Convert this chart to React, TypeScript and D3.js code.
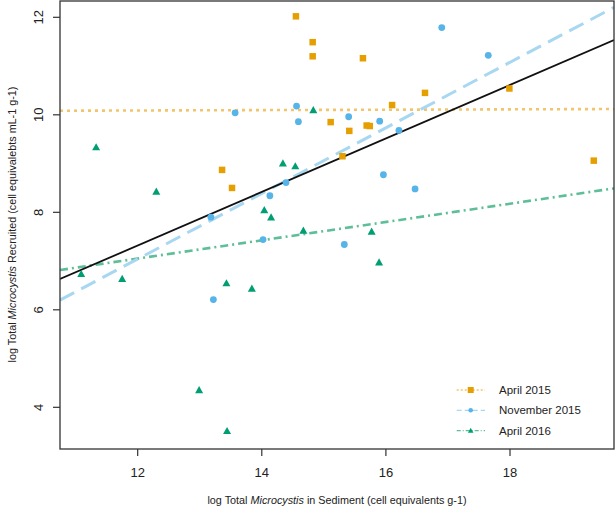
import React from "react";
import * as d3 from "d3";

// ---- data ----
const april2015X = [14.55, 14.82, 14.82, 15.63, 16.10, 15.11, 15.41, 15.69, 15.74, 15.30, 13.36, 13.52, 16.63, 17.99, 19.35];
const april2015Y = [12.02, 11.49, 11.20, 11.16, 10.20, 9.85, 9.67, 9.78, 9.77, 9.15, 8.87, 8.50, 10.45, 10.54, 9.06];

const nov2015X = [13.57, 14.56, 14.59, 15.40, 15.90, 16.21, 15.96, 14.39, 14.13, 16.90, 17.65, 16.47, 15.33, 13.18, 14.02, 13.22];
const nov2015Y = [10.04, 10.18, 9.86, 9.96, 9.87, 9.68, 8.77, 8.61, 8.34, 11.79, 11.22, 8.48, 7.34, 7.90, 7.44, 6.21];

const april2016X = [11.33, 12.30, 14.34, 14.54, 14.04, 14.15, 14.67, 14.83, 15.77, 15.89, 11.09, 11.75, 13.43, 13.84, 12.99, 13.44];
const april2016Y = [9.33, 8.42, 9.00, 8.94, 8.04, 7.89, 7.62, 10.09, 7.60, 6.97, 6.73, 6.63, 6.54, 6.43, 4.35, 3.51];

// fitted lines: [intercept, slope]
const fitAll = [0.731, 0.549];
const fitApril2015 = [10.042, 0.0039];
const fitNov2015 = [-1.029, 0.6726];
const fitApril2016 = [4.801, 0.1875];

const xTicks = [12, 14, 16, 18];
const yTicks = [4, 6, 8, 10, 12];
const legendLabels = ["April 2015", "November 2015", "April 2016"];

const xDomain = [10.748, 19.676];
const yDomain = [3.145, 12.355];

export default function App() {
  const W = 615, H = 509;
  const L = 60, R = 614, T = 1, B = 449;
  const x = d3.scaleLinear().domain(xDomain).range([L, R]);
  const y = d3.scaleLinear().domain(yDomain).range([B, 0]);
  const font = "'Liberation Sans', Arial, sans-serif";

  const orange = "#E69F00", blue = "#56B4E9", green = "#009E73";
  const orangeL = "#F2C46C", blueL = "#A8D7F1", greenL = "#5DBE98";

  const fitLine = (f: number[]) => {
    const gen = d3.line<number>().x((v) => x(v)).y((v) => y(f[0] + f[1] * v));
    return gen(xDomain) || "";
  };

  const sq = 6.5;
  const tri = (cx: number, cy: number, s: number) => {
    const h = s * 0.9;
    return `M${cx},${cy - h * 0.6}L${cx + s / 2},${cy + h * 0.4}L${cx - s / 2},${cy + h * 0.4}Z`;
  };

  const legendRows = [390, 410.3, 430.7];
  const lx0 = 456.7, lx1 = 485, lmid = 470.7, ltx = 499;

  return (
    <svg width={W} height={H} style={{ position: "absolute", left: 0, top: 0, background: "#fff" }} fontFamily={font}>
      <defs>
        <clipPath id="plotclip">
          <rect x={L} y={T} width={R - L} height={B - T} />
        </clipPath>
      </defs>
      <rect x={0} y={0} width={W} height={H} fill="#fff" />
      <g clipPath="url(#plotclip)">
        <path d={fitLine(fitApril2015)} stroke={orangeL} strokeWidth={2.6} strokeDasharray="3,4" fill="none" />
        <path d={fitLine(fitApril2016)} stroke={greenL} strokeWidth={2.6} strokeDasharray="8,4,2,4" fill="none" />
        <path d={fitLine(fitNov2015)} stroke={blueL} strokeWidth={3} strokeDasharray="16,8" fill="none" />
        <path d={fitLine(fitAll)} stroke="#111" strokeWidth={1.8} fill="none" />
        {april2015X.map((v, i) => (
          <rect key={"o" + i} x={x(v) - sq / 2} y={y(april2015Y[i]) - sq / 2} width={sq} height={sq} fill={orange} />
        ))}
        {nov2015X.map((v, i) => (
          <circle key={"b" + i} cx={x(v)} cy={y(nov2015Y[i])} r={3.4} fill={blue} />
        ))}
        {april2016X.map((v, i) => (
          <path key={"g" + i} d={tri(x(v), y(april2016Y[i]), 8)} fill={green} />
        ))}
      </g>
      <rect x={L} y={T} width={R - L} height={B - T} fill="none" stroke="#333" strokeWidth={1.3} />
      {xTicks.map((t) => (
        <g key={"xt" + t}>
          <line x1={x(t)} x2={x(t)} y1={B} y2={B + 7} stroke="#333" strokeWidth={1.2} />
          <text x={x(t)} y={477} fontSize={13} textAnchor="middle" fill="#222">{t}</text>
        </g>
      ))}
      {yTicks.map((t) => (
        <g key={"yt" + t}>
          <line x1={L - 7} x2={L} y1={y(t)} y2={y(t)} stroke="#333" strokeWidth={1.2} />
          <text transform={`translate(43,${y(t)}) rotate(-90)`} fontSize={13} textAnchor="middle" fill="#222">{t}</text>
        </g>
      ))}
      <text x={(L + R) / 2} y={504} fontSize={10.8} textAnchor="middle" fill="#222">
        log Total <tspan fontStyle="italic">Microcystis</tspan> in Sediment (cell equivalents g-1)
      </text>
      <text transform={`translate(16,${(0 + B) / 2}) rotate(-90)`} fontSize={10.8} textAnchor="middle" fill="#222">
        log Total <tspan fontStyle="italic">Microcystis</tspan> Recruited (cell equivalebts mL-1 g-1)
      </text>
      {legendLabels.map((lab, i) => {
        const cy = legendRows[i];
        const col = [orange, blue, green][i];
        const colL = [orangeL, blueL, greenL][i];
        const dash = ["2,2", "5,3", "4,2,1,2"][i];
        return (
          <g key={lab}>
            <line x1={lx0} x2={lx1} y1={cy} y2={cy} stroke={colL} strokeWidth={1.3} strokeDasharray={dash} />
            {i === 0 && <rect x={lmid - 3} y={cy - 3} width={6} height={6} fill={col} />}
            {i === 1 && <circle cx={lmid} cy={cy} r={2.3} fill={col} />}
            {i === 2 && <path d={tri(lmid, cy, 5.5)} fill={col} />}
            <text x={ltx} y={cy + 4} fontSize={11.5} fill="#222">{lab}</text>
          </g>
        );
      })}
    </svg>
  );
}
